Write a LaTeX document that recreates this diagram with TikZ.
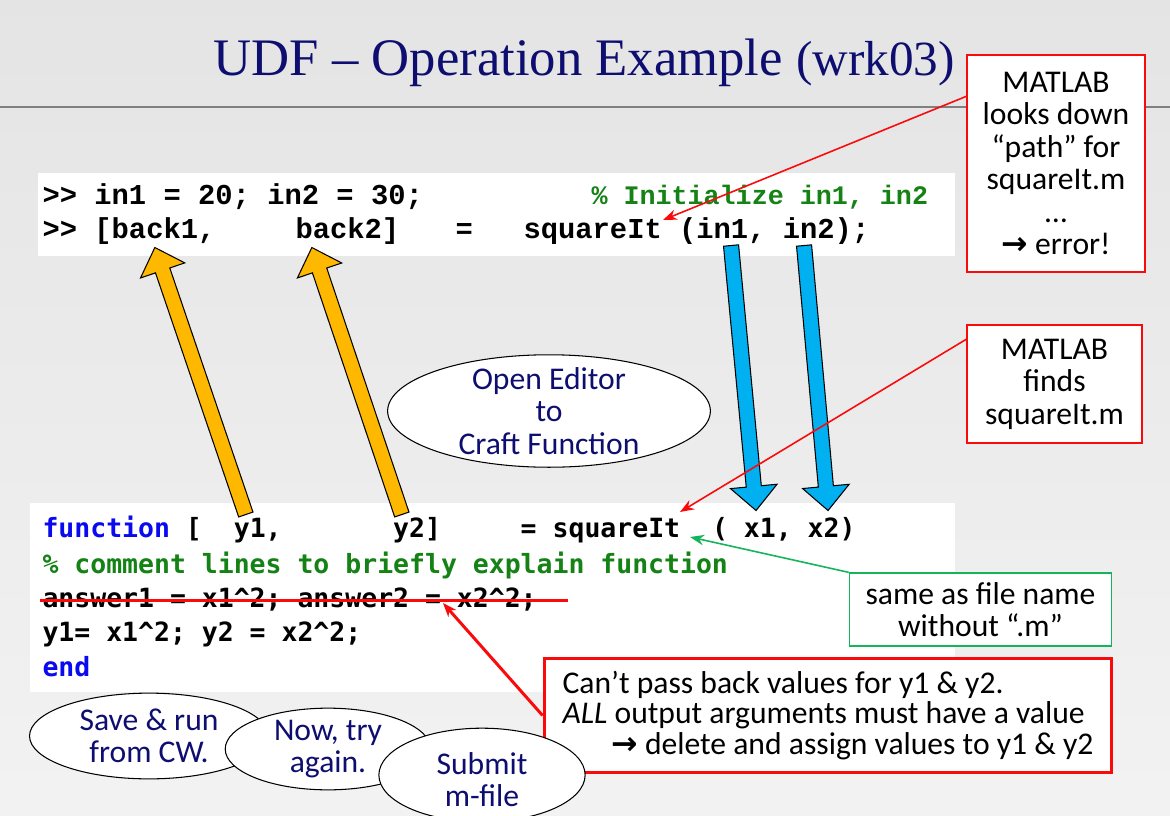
\documentclass[tikz,border=0pt]{standalone}
\usepackage{fontspec}
\setmainfont{Carlito}
\newfontfamily\titlefont{Liberation Serif}
\newfontfamily\cmdfont{Liberation Mono}
\newfontfamily\mfilefont{DejaVu Sans Mono}
\newfontfamily\arrowfont{DejaVu Sans}
\usetikzlibrary{positioning,calc,arrows.meta,shapes.geometric,shapes.arrows}
\definecolor{navy}{RGB}{14,14,112}
\definecolor{codegreen}{RGB}{20,130,20}
\definecolor{codeblue}{RGB}{10,10,240}
\definecolor{callred}{RGB}{250,10,10}
\definecolor{notegreen}{RGB}{20,180,90}
\definecolor{outyellow}{RGB}{255,184,0}
\definecolor{inblue}{RGB}{0,176,240}
\tikzset{every picture/.style={line width=0.6pt}}
\tikzset{
  title/.style={font=\titlefont, text=navy, anchor=base west, inner sep=0pt},
  cmd/.style={font=\cmdfont\bfseries\fontsize{16.4}{18}\selectfont, anchor=base west, inner sep=0pt},
  mfile/.style={font=\mfilefont\bfseries\fontsize{15.07}{17}\selectfont\frenchspacing, anchor=base west, inner sep=0pt},
  redbox/.style={draw=callred, fill=white, line width=1.1pt, align=center, inner sep=0pt,
    font=\fontsize{18}{18.5}\selectfont},
  greenbox/.style={redbox, draw=notegreen, line width=0.9pt},
  bubble/.style={ellipse, draw=black, fill=white, inner sep=0pt},
  bubbletext/.style={text=navy, align=center, inner sep=0pt, font=\fontsize{18}{18.4}\selectfont},
  blockarr/.style={single arrow, draw=black, line width=0.6pt, inner xsep=0pt, inner ysep=4pt,
    minimum width=0pt, single arrow head extend=9pt, single arrow tip angle=88,
    single arrow head indent=0pt},
  callout/.style={draw=callred, line width=0.9pt, -{Stealth[length=8pt,width=6pt]}},
  rule/.style={draw=gray, line width=1.7pt},
}
% fat arrow from tail #1 to tip #2
\newcommand{\blockarrow}[3]{%
  \path let \p1=(#1), \p2=(#2),
    \n1={atan2(\y2-\y1,\x2-\x1)}, \n2={veclen(\x2-\x1,\y2-\y1)} in
    node[blockarr, fill=#3, minimum height=\n2, rotate=\n1, anchor=tail] at (#1) {};}

\begin{document}
\begin{tikzpicture}[x=0.02cm, y=-0.02cm]
  \useasboundingbox (0,0) rectangle (1170,815);
  \shade[top color=gray!21, bottom color=gray!10] (0,0) rectangle (1170,815);
  \draw[rule] (0,107) -- (1170,107);
  \node[title] (title) at (213,75)
    {{\fontsize{30}{32}\selectfont UDF – Operation Example\ }{\fontsize{28}{30}\selectfont(wrk03)}};

  % command window lines
  \fill[white] (38,173) rectangle (955,256);
  \node[cmd] (init) at (42,204) {>{}> in1 = 20; in2 = 30;};
  \node[cmd, text=codegreen, font=\cmdfont\bfseries\fontsize{15.2}{18}\selectfont] (initnote) at (591,204)
    {\% Initialize in1, in2};
  \node[cmd] (back1) at (42,238) {>{}> [back1,};
  \node[cmd] (back2) at (295,238) {back2]};
  \node[cmd] (eq) at (455,238) {=};
  \node[cmd] (call) at (523,238) {squareIt (in1, in2);};

  % m-file lines
  \fill[white] (30,503) rectangle (955,692);
  \node[mfile] (fline) at (42,537)
    {\textcolor{codeblue}{function}~[~~y1,~~~~~~~y2]~~~~~=~squareIt~~(~x1,~x2)};
  \node[mfile, text=codegreen] (comment) at (42,573) {\% comment lines to briefly explain function};
  \node[mfile] (answers) at (42,607) {answer1 = x1\textasciicircum2; answer2 = x2\textasciicircum2;};
  \node[mfile] (ys) at (42,641) {y1= x1\textasciicircum2; y2 = x2\textasciicircum2;};
  \node[mfile, text=codeblue] (fend) at (42,676) {end};
  \coordinate (strikeL) at (40,600);
  \coordinate (strikeR) at (568,600);
  \draw[draw=callred, line width=1.7pt] (strikeL) -- (strikeR);

  \node[bubble, minimum width=183.7pt, minimum height=64pt] (editor) at (549,411) {};
  \node[bubbletext, font=\fontsize{18}{18.7}\selectfont] at (editor) {Open Editor\\to\\Craft Function};

  % outputs go back, inputs go in
  \coordinate (y1tail) at (246,515);
  \coordinate (back1tip) at (155,248);
  \coordinate (y2tail) at (402,515);
  \coordinate (back2tip) at (312,248);
  \coordinate (in1top) at (731,245);
  \coordinate (x1tip) at (756,510);
  \coordinate (in2top) at (804,245);
  \coordinate (x2tip) at (828,510);
  \blockarrow{y1tail}{back1tip}{outyellow}
  \blockarrow{y2tail}{back2tip}{outyellow}
  \blockarrow{in1top}{x1tip}{inblue}
  \blockarrow{in2top}{x2tip}{inblue}

  \node[redbox, minimum width=100.9pt, minimum height=123pt] (lookup) at (1056,163.5)
    {MATLAB\\looks down\\“path” for\\squareIt.m\\…\\{\arrowfont\bfseries →} error!};
  \node[redbox, minimum width=99.2pt, minimum height=66.9pt] (found) at (1054.5,384)
    {MATLAB\\finds\\squareIt.m};
  \node[greenbox, minimum width=149.1pt, minimum height=41.4pt] (samename) at (980.5,609.5)
    {same as file name\\without “.m”};
  \node[redbox, line width=1.7pt, align=left, minimum width=323.2pt,
    minimum height=65.2pt, font=\fontsize{18}{17.6}\selectfont] (whynot) at (828,715.5)
    {Can’t pass back values for y1 \& y2.\\\textit{ALL} output arguments must have a value\\
     \hspace*{27.8pt}{\arrowfont\bfseries →} delete and assign values to y1 \& y2};

  \coordinate (callpt) at (663,220);
  \coordinate (defpt) at (680,512);
  \coordinate (namept) at (690,537);
  \coordinate (strikept) at (443,603);
  \draw[callout] ([yshift=-23.8pt]lookup.north west) -- (callpt);
  \draw[callout] ([yshift=-8.5pt]found.north west) -- (defpt);
  \draw[callout, draw=notegreen] (samename.north west) -- (namept);
  \draw[callout, line width=1.7pt] (whynot.west) -- (strikept);

  \node[bubble, minimum width=136pt, minimum height=48.8pt] (saverun) at (149,736) {};
  \node[bubbletext] at (saverun) {Save \& run\\from CW.};
  \node[bubble, minimum width=117pt, minimum height=46.5pt] (tryagain) at (328,749) {};
  \node[bubbletext] at (tryagain) {Now, try\\again.};
  \node[bubble, minimum width=117.4pt, minimum height=53.3pt] (submit) at (482,775) {};
  \node[bubbletext] at ([yshift=-2.5pt]submit) {Submit\\m-file};
\end{tikzpicture}
\end{document}
